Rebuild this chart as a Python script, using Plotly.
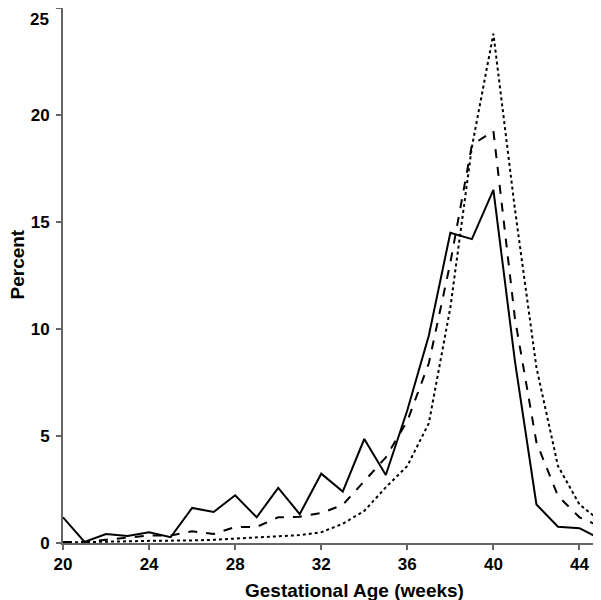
import plotly.graph_objects as go

weeks = list(range(20, 46))
solid = [1.2, 0.05, 0.42, 0.33, 0.5, 0.27, 1.64, 1.45, 2.23, 1.2, 2.58, 1.35, 3.24, 2.4,
         4.86, 3.18, 6.2, 9.7, 14.5, 14.2, 16.5, 8.5, 1.8, 0.76, 0.69, 0.17]
dashed = [0.05, 0.05, 0.15, 0.25, 0.35, 0.35, 0.55, 0.42, 0.75, 0.75, 1.2, 1.23, 1.4, 1.78,
          2.9, 4.0, 5.7, 8.4, 13.1, 18.6, 19.25, 10.5, 4.7, 2.2, 1.2, 0.76]
dotted = [0.02, 0.03, 0.05, 0.08, 0.1, 0.1, 0.12, 0.15, 0.2, 0.25, 0.3, 0.37, 0.5, 0.9,
          1.5, 2.6, 3.6, 5.6, 11.0, 18.5, 23.8, 15.6, 8.2, 3.6, 1.8, 1.0]
x_ticks = [20, 24, 28, 32, 36, 40, 44]
y_ticks = [0, 5, 10, 15, 20, 25]
x_title = "Gestational Age (weeks)"
y_title = "Percent"

fig = go.Figure()
fig.add_trace(go.Scatter(x=weeks, y=dotted, mode="lines",
                         line=dict(color="black", width=2, dash="dot")))
fig.add_trace(go.Scatter(x=weeks, y=dashed, mode="lines",
                         line=dict(color="black", width=2, dash="dash")))
fig.add_trace(go.Scatter(x=weeks, y=solid, mode="lines",
                         line=dict(color="black", width=2)))

font_family = "Liberation Sans, Arial, sans-serif"
# top tick label drawn as annotation so it is not cut at the page edge
y_ticktext = [str(v) for v in y_ticks[:-1]] + [""]

fig.update_layout(
    width=593, height=592,
    margin=dict(l=55, r=0, t=0, b=57, autoexpand=False),
    plot_bgcolor="white", paper_bgcolor="white",
    showlegend=False,
    font=dict(family=font_family, color="black"),
    annotations=[
        dict(text=f"<b>{y_ticks[-1]}</b>", xref="paper", yref="paper", x=0, y=1,
             xanchor="right", yanchor="top", xshift=-12, yshift=0,
             showarrow=False, font=dict(size=17, family=font_family)),
        dict(text=f"<b>{x_title}</b>", xref="paper", yref="paper", x=0.5418, y=0,
             xanchor="center", yanchor="middle", yshift=-47,
             showarrow=False, font=dict(size=19, family=font_family)),
        dict(text=f"<b>{y_title}</b>", xref="paper", yref="paper", x=0, y=0.5,
             xanchor="center", yanchor="middle", xshift=-46, yshift=11, textangle=-90,
             showarrow=False, font=dict(size=19, family=font_family)),
    ],
)
fig.update_xaxes(
    range=[20, 45], tickvals=x_ticks, ticktext=[str(v) for v in x_ticks],
    showgrid=False, zeroline=False, showline=True, linecolor="#666", linewidth=2,
    ticks="outside", ticklen=5, tickcolor="#666", tickwidth=2,
    tickfont=dict(size=17, family=font_family, weight="bold"),
    automargin=False, ticklabeloverflow="allow",
)
fig.update_yaxes(
    range=[0, 25], tickvals=y_ticks, ticktext=y_ticktext,
    showgrid=False, zeroline=False, showline=True, linecolor="#666", linewidth=2,
    ticks="outside", ticklen=5, tickcolor="#666", tickwidth=2,
    tickfont=dict(size=17, family=font_family, weight="bold"),
    automargin=False, ticklabeloverflow="allow", ticklabelstandoff=3,
)
fig.write_html("out.html")
